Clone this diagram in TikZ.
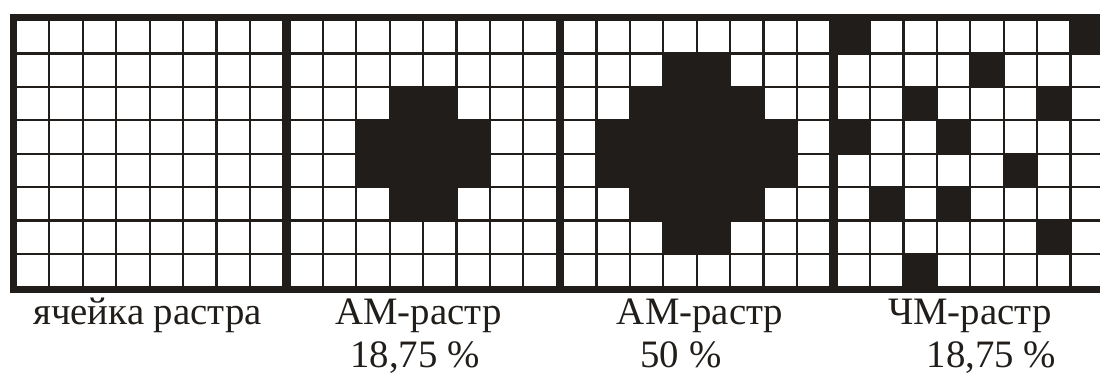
\documentclass[tikz,border=0pt]{standalone}
\usepackage{fontspec}
\setmainfont{Liberation Serif}
\usepackage{tikz}
\definecolor{RasterInk}{HTML}{211D1A}

\begin{document}
\begin{tikzpicture}[x=16.7pt,y=-16.7pt,
    gridline/.style={RasterInk,line width=1.1pt},
    frameline/.style={RasterInk,line width=3.5pt},
    inkcell/.style={fill=RasterInk},
    caption/.style={anchor=base,inner sep=0pt,RasterInk,font=\fontsize{19.4}{23}\selectfont}]
  \useasboundingbox (-0.479,-0.599) rectangle (32.455,10.569);
  \clip (-0.479,-0.599) rectangle (32.455,10.569);
  % AM 18,75 %
  \begin{scope}[shift={(8.19,0)}]
    \foreach \c/\r in {3/2,4/2,2/3,3/3,4/3,5/3,2/4,3/4,4/4,5/4,3/5,4/5}
      \fill[inkcell] (\c,\r) rectangle +(1,1);
  \end{scope}
  % AM 50 %
  \begin{scope}[shift={(16.38,0)}]
    \foreach \c/\r in {3/1,4/1,2/2,3/2,4/2,5/2,1/3,2/3,3/3,4/3,5/3,6/3,
                       1/4,2/4,3/4,4/4,5/4,6/4,2/5,3/5,4/5,5/5,3/6,4/6}
      \fill[inkcell] (\c,\r) rectangle +(1,1);
  \end{scope}
  % FM 18,75 %
  \begin{scope}[shift={(24.57,0)}]
    \foreach \c/\r in {0/0,7/0,4/1,2/2,6/2,0/3,3/3,5/4,1/5,3/5,6/6,2/7}
      \fill[inkcell] (\c,\r) rectangle +(1,1);
  \end{scope}
  % grids and frames
  \foreach \g in {0,1,2,3} {
    \begin{scope}[shift={(\g*8.19,0)}]
      \foreach \k in {1,...,7} {
        \draw[gridline] (\k,0) -- (\k,8);
        \draw[gridline] (0,\k) -- (8,\k);
      }
      \draw[frameline] (-0.075,-0.075) rectangle (8.075,8.075);
    \end{scope}
  }
  \node[caption] (cellcap) at (3.94,9.13) {ячейка растра};
  \node[caption] (amlowcap) at (12.05,9.13) {АМ-растр};
  \node[caption] (amlowval) at (11.95,10.40) {18,75 \%};
  \node[caption] (amhighcap) at (20.48,9.13) {АМ-растр};
  \node[caption] (amhighval) at (19.91,10.40) {50 \%};
  \node[caption] (fmcap) at (28.56,9.13) {ЧМ-растр};
  \node[caption] (fmval) at (29.21,10.40) {18,75 \%};
\end{tikzpicture}
\end{document}
